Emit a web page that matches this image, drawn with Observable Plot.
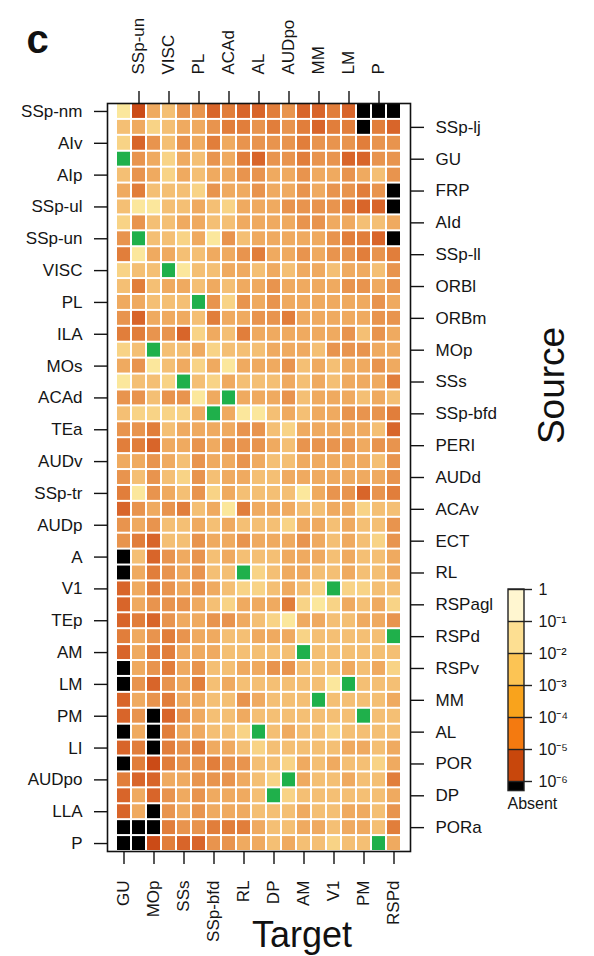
<!DOCTYPE html>
<html><head><meta charset="utf-8">
<script src="https://cdn.jsdelivr.net/npm/d3@7"></script>
<script src="https://cdn.jsdelivr.net/npm/@observablehq/plot@0.6"></script>
<style>
body{margin:0;background:#fff;}
#wrap{position:relative;width:594px;height:956px;overflow:hidden;background:#fff;}
#legend{position:absolute;left:495px;top:575px;}
</style></head><body><div id="wrap"><div id="chart"></div><div id="legend"></div></div>
<script>
// Target areas (columns) and source areas (rows)
const targets = ["GU","SSp-un","MOp","VISC","SSs","PL","SSp-bfd","ACAd","RL","AL","DP","AUDpo","AM","MM","V1","LM","PM","P","RSPd"];
const sources = ["SSp-nm","SSp-lj","AIv","GU","AIp","FRP","SSp-ul","AId","SSp-un","SSp-ll","VISC","ORBl","PL","ORBm","ILA","MOp","MOs","SSs","ACAd","SSp-bfd","TEa","PERI","AUDv","AUDd","SSp-tr","ACAv","AUDp","ECT","A","RL","V1","RSPagl","TEp","RSPd","AM","RSPv","LM","MM","PM","AL","LI","POR","AUDpo","DP","LLA","PORa","P"];
// tick labels
const topTicks = ["SSp-un","VISC","PL","ACAd","AL","AUDpo","MM","LM","P"];
const bottomTicks = ["GU","MOp","SSs","SSp-bfd","RL","DP","AM","V1","PM","RSPd"];
const leftTicks = ["SSp-nm","AIv","AIp","SSp-ul","SSp-un","VISC","PL","ILA","MOs","ACAd","TEa","AUDv","SSp-tr","AUDp","A","V1","TEp","AM","LM","PM","LI","AUDpo","LLA","P"];
const rightTicks = ["SSp-lj","GU","FRP","AId","SSp-ll","ORBl","ORBm","MOp","SSs","SSp-bfd","PERI","AUDd","ACAv","ECT","RL","RSPagl","RSPd","RSPv","MM","AL","POR","DP","PORa"];
// log10 connection strength per source row (null = absent / self)
const log10Strength = [
[-1.5,-5,-3,-2.5,-3.5,-3.5,-4.5,-4,-4.5,-4.5,-4,-3.5,-4.5,-4.5,-4,-4.5,null,null,null],
[-2.5,-3,-2,-2.5,-3,-3,-3.5,-4,-4,-3.5,-4,-3.5,-4,-4.5,-4,-4,null,-4,-4.5],
[-2,-4.5,-3.5,-2.5,-3.5,-3,-4,-3,-3.5,-3.5,-3.5,-3.5,-4,-3.5,-3.5,-3.5,-4,-3.5,-3.5],
[null,-3.5,-3,-2,-3,-2.5,-3.5,-3,-4,-4.5,-3.5,-3.5,-4,-3.5,-3.5,-4.5,-4.5,-3.5,-3.5],
[-2.5,-3.5,-3,-2,-3,-2.5,-3,-3,-3.5,-3.5,-3,-3,-3.5,-3,-3,-3.5,-3,-2.5,-3.5],
[-3,-4,-2.5,-2.5,-2.5,-2,-3.5,-3,-3,-3.5,-3,-3,-3.5,-3,-3.5,-3.5,-4,-3.5,null],
[-2.5,-1.5,-1.5,-2.5,-2.5,-3,-2.5,-2,-3,-3,-3,-3.5,-3.5,-3.5,-3.5,-4,-4.5,-4.5,null],
[-2,-3.5,-2.5,-2.5,-3,-3,-2.5,-2.5,-3,-3,-3,-3,-3.5,-3.5,-3,-3,-2.5,-2.5,-3],
[-3.5,null,-2.5,-2.5,-2,-3,-1.5,-3.5,-2.5,-3,-3,-3,-3,-3,-3.5,-4,-4,-4.5,null],
[-4,-1.5,-3,-3,-2.5,-2.5,-3,-3,-3.5,-4,-3,-3,-3.5,-3,-3.5,-3.5,-4,-3.5,-4],
[-2,-2.5,-2.5,null,-1.5,-2.5,-2.5,-3,-3,-2.5,-3,-2.5,-3,-3,-2.5,-3,-3,-2.5,-3.5],
[-2.5,-4,-2.5,-3,-3,-2.5,-3,-2.5,-3,-3,-3.5,-3,-3,-3,-3,-3.5,-3.5,-3,-3.5],
[-3,-3,-2.5,-2.5,-2.5,null,-3.5,-2,-3.5,-3,-3.5,-3,-3,-3,-3,-3,-3,-3.5,-3],
[-3.5,-4.5,-3,-3,-3,-2.5,-4,-3,-3,-3.5,-3.5,-4,-3,-3,-3,-3,-3,-3.5,-3.5],
[-4,-4,-3.5,-3.5,-4.5,-2,-3,-2.5,-4,-3,-3,-3,-3,-3,-3,-3.5,-2.5,-3.5,-3],
[-2,-2.5,null,-2.5,-2.5,-3,-2,-2.5,-2.5,-2.5,-3,-3,-3,-2.5,-3.5,-3.5,-3.5,-3,-3],
[-3,-3.5,-1.5,-2.5,-3,-2,-3,-1.5,-3,-3,-3,-3.5,-2.5,-3,-2.5,-3,-3,-3.5,-3],
[-1.5,-2.5,-2.5,-2,null,-2.5,-2,-3,-2.5,-2.5,-2.5,-3,-2.5,-3,-2.5,-3,-3,-3,-4],
[-3.5,-3.5,-2.5,-3.5,-3.5,-1.5,-3,null,-3,-3,-3,-3.5,-2.5,-3,-3,-3,-2.5,-3,-2.5],
[-2.5,-2,-2,-2,-2,-3,null,-3,-1.5,-1.5,-2.5,-3,-2.5,-3,-3,-3.5,-3.5,-3.5,-4],
[-3.5,-3.5,-4,-2.5,-3,-3,-3,-3,-3.5,-3.5,-2.5,-2,-3,-3,-3,-3,-3,-2.5,-4.5],
[-4,-4,-4.5,-3,-3,-3.5,-3,-3.5,-3.5,-3.5,-3,-2.5,-3.5,-3.5,-3.5,-3.5,-3,-3.5,-3.5],
[-3,-3,-3.5,-3,-2.5,-3.5,-3,-3,-3.5,-3,-2.5,-2.5,-3,-3,-3,-3,-3,-2.5,-3.5],
[-3.5,-2.5,-3.5,-2.5,-2,-3.5,-2.5,-3,-3,-2.5,-2.5,-3,-3,-3,-3,-3,-3,-3,-3.5],
[-4,-1.5,-3.5,-3,-2.5,-3.5,-2,-3,-2.5,-2.5,-2.5,-2.5,-1.5,-3,-3.5,-3.5,-4.5,-3.5,-4],
[-4.5,-3.5,-3,-3.5,-4,-2.5,-3,-1.5,-4,-3,-3,-3,-2.5,-2.5,-3,-3,-2,-2.5,-2.5],
[-3.5,-3,-3.5,-2.5,-2.5,-3,-2.5,-3,-2.5,-2.5,-2.5,-2,-3,-3,-2.5,-3,-2.5,-2.5,-3.5],
[-3.5,-4,-4.5,-2.5,-2.5,-3.5,-3,-3,-3.5,-3,-3,-3,-3.5,-3,-2.5,-3,-2.5,-2,-3.5],
[null,-2.5,-4.5,-3.5,-3,-3.5,-2.5,-3,-2.5,-2.5,-2.5,-3,-3,-3,-2.5,-3,-2.5,-2.5,-3],
[null,-3,-4,-3.5,-3,-3.5,-2.5,-2.5,null,-2,-2.5,-3,-3,-2.5,-2.5,-3,-2.5,-2.5,-3],
[-4.5,-3,-4,-3.5,-3,-3.5,-3,-2.5,-2,-2,-2.5,-3,-2.5,-2,null,-2,-2,-2.5,-2.5],
[-4.5,-3,-3.5,-3.5,-3.5,-3,-2.5,-2,-3,-3,-3,-4,-2,-1.5,-2,-3,-2.5,-3,-2],
[-4.5,-4,-4.5,-3.5,-3,-3,-3.5,-3.5,-3,-2.5,-2,-1.5,-3,-3,-2.5,-2.5,-3,-3,-3.5],
[-4,-3,-3.5,-4,-3.5,-3,-3,-2.5,-2.5,-3,-3,-3,-2,-2.5,-2.5,-2.5,-2.5,-2.5,null],
[-4.5,-3,-4,-4,-3,-3,-3,-2.5,-2.5,-2.5,-2.5,-2.5,null,-2.5,-2.5,-2.5,-2.5,-2.5,-2.5],
[null,-3,-3.5,-4,-3,-3.5,-2.5,-2.5,-3,-3,-3.5,-3.5,-2.5,-2.5,-2.5,-3,-2.5,-3,-2],
[null,-3.5,-4.5,-3.5,-3,-4,-2.5,-3,-2.5,-2.5,-2.5,-2.5,-2.5,-2.5,-1.5,null,-2.5,-2.5,-2.5],
[-4.5,-3,-3.5,-4,-3,-3,-2.5,-2.5,-3.5,-3,-2.5,-2.5,-2.5,null,-2.5,-2.5,-2.5,-2.5,-3],
[-4.5,-3.5,null,-4.5,-3.5,-3,-2.5,-2.5,-3,-2.5,-2.5,-2.5,-2.5,-2.5,-2.5,-2.5,null,-2.5,-2.5],
[null,-3,null,-4,-3,-3,-2.5,-2.5,-2,null,-2.5,-3,-2.5,-2.5,-2,-2.5,-2.5,-2.5,-2.5],
[-4.5,-4,null,-4,-3.5,-4,-3,-3,-2.5,-2,-2.5,-2.5,-2.5,-2.5,-2.5,-3,-3,-2.5,-3],
[null,-4,-5,-4,-3.5,-3.5,-4,-3.5,-3.5,-2.5,-2.5,-2,-3,-2.5,-3,-2.5,-2.5,-2,-3],
[-4,-4.5,-4.5,-3,-3,-3.5,-3.5,-3.5,-3,-2.5,-2,null,-3,-2.5,-2.5,-3,-2.5,-2.5,-4],
[-4.5,-3,-4.5,-3.5,-3,-3.5,-3,-3,-3,-2.5,null,-2,-2.5,-2.5,-2.5,-2.5,-2.5,-2.5,-3],
[-4.5,-3,null,-3.5,-3,-3.5,-3,-3,-3,-2.5,-2.5,-2.5,-3,-2.5,-2.5,-3,-3,-2.5,-3.5],
[null,null,null,-4,-3.5,-3.5,-4,-4,-4,-3,-2.5,-2.5,-3,-3,-2.5,-3,-3,-2.5,-4],
[null,null,-5,-4,-4.5,-4.5,-3.5,-3.5,-3,-3,-2.5,-3,-2.5,-2.5,-2,-2.5,-2.5,null,-3]
];
// colour ramp for the cells
const cellLevels = [-5,-4.5,-4,-3.5,-3,-2.5,-2,-1.5];
const cellColors = ["#cb4b17","#d8652a","#e17e3b","#e8944e","#efaa60","#f4bf74","#f8d386","#fbe79c"];
// legend
const legendBreaks = [0,-1,-2,-3,-4,-5,-6];
const legendLabels = ["1","10\u207B\u00B9","10\u207B\u00B2","10\u207B\u00B3","10\u207B\u2074","10\u207B\u2075","10\u207B\u2076"];
const legendColors = ["#fff6d0","#fddf92","#fcc454","#f9a31c","#f47a10","#c8470c"];

const cells = sources.flatMap((s, i) => targets.map((t, j) => ({source: s, target: t, v: log10Strength[i][j]})));
const measured = cells.filter(d => d.source !== d.target && d.v != null);
const absent = cells.filter(d => d.source !== d.target && d.v == null);
const self = cells.filter(d => d.source === d.target);

const font = "'Liberation Sans', Arial, Helvetica, sans-serif";
const axisOpts = {label: null, tickSize: 13, strokeWidth: 1.4, stroke: "#111"};

const chart = Plot.plot({
  width: 594, height: 956,
  marginLeft: 107, marginRight: 184, marginTop: 103, marginBottom: 105,
  style: {fontFamily: font, fontSize: "17px", color: "#151515", background: "white", overflow: "visible"},
  x: {type: "band", domain: targets, padding: 0},
  y: {type: "band", domain: sources, padding: 0},
  color: {type: "linear", domain: cellLevels, range: cellColors},
  marks: [
    Plot.cell(measured, {x: "target", y: "source", fill: "v", inset: 1}),
    Plot.cell(absent, {x: "target", y: "source", fill: "#000", inset: 1}),
    Plot.cell(self, {x: "target", y: "source", fill: "#1fb04b", inset: 1}),
    Plot.frame({stroke: "#111", strokeWidth: 1.6}),
    Plot.axisX({...axisOpts, anchor: "top", ticks: topTicks, tickRotate: -90, tickPadding: 16}),
    Plot.axisX({...axisOpts, anchor: "bottom", ticks: bottomTicks, tickRotate: -90, tickPadding: 16}),
    Plot.axisY({...axisOpts, anchor: "left", ticks: leftTicks, tickPadding: 12}),
    Plot.axisY({...axisOpts, anchor: "right", ticks: rightTicks, tickPadding: 12}),
    Plot.text(["c"], {frameAnchor: "top-left", dx: -81, dy: -51, fontSize: 40, fontWeight: "bold", textAnchor: "start", lineAnchor: "bottom", fill: "#111"}),
    Plot.text(["Source"], {frameAnchor: "right", dx: 153, dy: -92, rotate: -90, fontSize: 37, textAnchor: "middle", lineAnchor: "bottom", fill: "#111"}),
    Plot.text(["Target"], {frameAnchor: "bottom", dx: 43, dy: 95, fontSize: 36, textAnchor: "middle", lineAnchor: "bottom", fill: "#111"})
  ]
});
document.getElementById("chart").append(chart);

const bands = legendColors.map((c, i) => ({from: legendBreaks[i], to: legendBreaks[i + 1], color: c}));
bands.push({from: -6, to: -6.3, color: "#000"});
const legend = Plot.plot({
  width: 95, height: 245, margin: 0,
  style: {fontFamily: font, fontSize: "16px", color: "#151515", background: "transparent", overflow: "visible"},
  x: {domain: [0, 1], range: [13, 29], axis: null},
  y: {domain: [0, -6], range: [14, 206], axis: null},
  marks: [
    Plot.rect(bands, {x1: 0, x2: 1, y1: "from", y2: "to", fill: "color"}),
    Plot.rect([0], {x1: 0, x2: 1, y1: 0, y2: -6.3, fill: "none", stroke: "#222", strokeWidth: 1.4}),
    Plot.ruleY(legendBreaks, {x1: 0, x2: 1.5, stroke: "#222", strokeWidth: 1.4}),
    Plot.text(legendBreaks, {x: 1.5, y: d => d, text: (d, i) => legendLabels[i], dx: 6, textAnchor: "start", fill: "#151515"}),
    Plot.text(["Absent"], {x: 0, y: -6.7, dx: -1, textAnchor: "start", fill: "#151515"})
  ]
});
document.getElementById("legend").append(legend);
</script></body></html>
